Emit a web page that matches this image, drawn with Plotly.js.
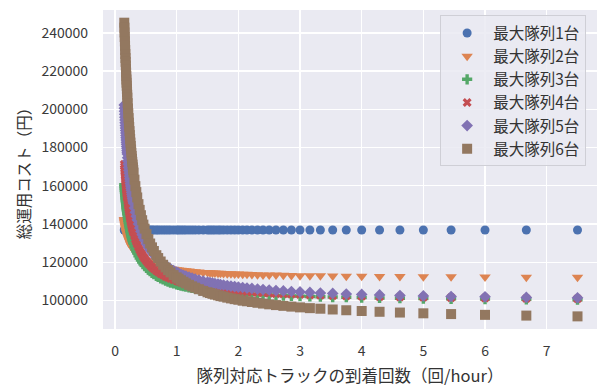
<!DOCTYPE html>
<html>
<head>
<meta charset="utf-8">
<script src="https://cdn.plot.ly/plotly-3.0.1.min.js"></script>
<style>
html,body{margin:0;padding:0;background:#ffffff;}
#chart{width:598px;height:388px;}
</style>
</head>
<body>
<div id="chart"></div>
<script>
// arrivals of platoon trucks per hour (x)
const arrivals = [0.15,0.1525,0.155,0.1575,0.16,0.1625,0.165,0.1675,0.17,0.1725,
0.175,0.1775,0.18,0.1825,0.185,0.1875,0.19,0.1925,0.195,0.1975,
0.2,0.205,0.21,0.215,0.22,0.225,0.23,0.235,0.24,0.245,
0.25,0.255,0.26,0.265,0.27,0.275,0.28,0.285,0.29,0.295,
0.3,0.315,0.33,0.345,0.36,0.38,0.4,0.42,0.44,0.46,
0.48,0.51,0.54,0.57,0.6,0.63,0.67,0.7,0.74,0.78,
0.82,0.86,0.9,0.95,1.0,1.03,1.07,1.11,1.15,1.2,
1.25,1.3,1.36,1.43,1.5,1.54,1.58,1.62,1.67,1.71,
1.76,1.82,1.88,1.94,2.0,2.07,2.14,2.22,2.31,2.4,
2.5,2.61,2.73,2.86,3.0,3.16,3.33,3.53,3.75,4.0,
4.29,4.62,5.0,5.45,6.0,6.67,7.5];

const seriesNames = ['最大隊列1台','最大隊列2台','最大隊列3台','最大隊列4台','最大隊列5台','最大隊列6台'];

const costQueue1 = [136900,136900,136900,136900,136900,136900,136900,136900,136900,136900,
136900,136900,136900,136900,136900,136900,136900,136900,136900,136900,
136900,136900,136900,136900,136900,136900,136900,136900,136900,136900,
136900,136900,136900,136900,136900,136900,136900,136900,136900,136900,
136900,136900,136900,136900,136900,136900,136900,136900,136900,136900,
136900,136900,136900,136900,136900,136900,136900,136900,136900,136900,
136900,136900,136900,136900,136900,136900,136900,136900,136900,136900,
136900,136900,136900,136900,136900,136900,136900,136900,136900,136900,
136900,136900,136900,136900,136900,136900,136900,136900,136900,136900,
136900,136900,136900,136900,136900,136900,136900,136900,136900,136900,
136900,136900,136900,136900,136900,136900,136900];

const costQueue2 = [142300,141800,141300,140800,140400,139900,139500,139100,138700,138300,
137900,137500,137200,136800,136500,136100,135800,135500,135200,134900,
134600,134000,133500,133000,132500,132000,131600,131200,130800,130400,
130000,129600,129300,128900,128600,128300,128000,127700,127400,127200,
126900,126200,125500,124900,124300,123700,123100,122500,122000,121500,
121100,120600,120100,119600,119200,118800,118400,118100,117700,117400,
117100,116900,116600,116400,116100,116000,115800,115700,115500,115400,
115200,115100,114900,114700,114600,114500,114400,114400,114300,114200,
114100,114000,114000,113900,113800,113700,113700,113600,113500,113400,
113400,113300,113200,113100,113000,113000,112900,112800,112700,112700,
112600,112500,112400,112400,112300,112200,112100];

const costQueue3 = [160500,159500,158600,157600,156700,155800,155000,154100,153300,152500,
151800,151000,150300,149600,148900,148300,147600,147000,146400,145800,
145200,144100,143000,142000,141000,140100,139200,138400,137500,136800,
136000,135300,134600,133900,133300,132700,132100,131500,130900,130400,
129900,128400,127100,125900,124800,123400,122200,121100,120100,119200,
118400,117200,116200,115300,114500,113800,112900,112300,111600,111000,
110400,109900,109400,108900,108400,108100,107800,107500,107200,106900,
106600,106300,106000,105600,105300,105200,105000,104900,104700,104600,
104400,104300,104100,103900,103800,103600,103500,103300,103200,103000,
102900,102700,102600,102400,102300,102100,102000,101800,101700,101500,
101300,101200,101000,100900,100700,100600,100400];

const costQueue4 = [171200,170100,168900,167800,166800,165700,164700,163700,162800,161900,
161000,160100,159300,158500,157700,156900,156100,155400,154700,154000,
153300,152000,150700,149500,148400,147300,146300,145300,144300,143400,
142500,141700,140900,140100,139400,138600,137900,137300,136600,136000,
135400,133700,132100,130700,129400,127800,126400,125100,124000,122900,
121900,120600,119400,118400,117400,116600,115600,114900,114000,113300,
112600,112000,111500,110800,110300,109900,109600,109200,108900,108500,
108100,107800,107400,107000,106700,106500,106300,106100,105900,105800,
105600,105400,105200,105000,104900,104700,104500,104300,104200,104000,
103800,103600,103400,103300,103100,102900,102700,102500,102400,102200,
102000,101800,101700,101500,101300,101100,100900];

const costQueue5 = [202300,200600,199000,197400,195900,194400,192900,191500,190200,188900,
187600,186300,185100,184000,182800,181700,180600,179600,178500,177500,
176600,174700,172900,171200,169500,168000,166500,165000,163700,162400,
161100,159900,158700,157600,156500,155500,154500,153500,152600,151700,
150800,148400,146100,144100,142200,140000,137900,136100,134400,132900,
131500,129600,127900,126400,125100,123800,122400,121400,120200,119100,
118100,117300,116500,115600,114800,114300,113700,113200,112700,112200,
111700,111200,110700,110100,109600,109300,109100,108800,108600,108300,
108100,107800,107500,107300,107000,106800,106500,106300,106000,105700,
105500,105200,105000,104700,104500,104200,103900,103700,103400,103200,
102900,102600,102400,102100,101900,101600,101400];

const costQueue6 = [245300,242700,240200,237800,235500,233200,231000,228900,226800,224800,
222900,221000,219200,217400,215600,213900,212300,210700,209100,207600,
206100,203200,200500,197900,195400,193000,190800,188600,186500,184500,
182600,180800,179000,177300,175600,174100,172500,171100,169600,168300,
166900,163200,159800,156700,153900,150400,147400,144600,142000,139700,
137600,134700,132100,129800,127800,125900,123700,122200,120400,118700,
117300,115900,114700,113300,112100,111400,110600,109800,109000,108200,
107400,106700,105900,105000,104300,103900,103500,103100,102700,102300,
102000,101500,101100,100700,100400,99900,99600,99200,98800,98400,
98000,97600,97200,96800,96400,96000,95700,95300,94900,94500,
94100,93700,93300,92900,92500,92100,91700];

const xTicks = [0,1,2,3,4,5,6,7];
const yTicks = [100000,120000,140000,160000,180000,200000,220000,240000];

const allCosts = [costQueue1,costQueue2,costQueue3,costQueue4,costQueue5,costQueue6];
const colors = ['#4C72B0','#DD8452','#55A868','#C44E52','#8172B3','#937860'];
const symbols = ['circle','triangle-down','cross','x','diamond','square'];
const sizes = [9,10,8.5,8,9,10];

const FONT = '"Noto Sans CJK JP", "Noto Sans", sans-serif';

const traces = allCosts.map((ys, i) => ({
  type: 'scatter',
  mode: 'markers',
  name: seriesNames[i],
  x: arrivals,
  y: ys,
  marker: {color: colors[i], symbol: symbols[i], size: sizes[i], line: {width: 0}}
}));

const layout = {
  width: 598, height: 388,
  margin: {l: 103, r: 1, t: 10, b: 59, pad: 0},
  paper_bgcolor: '#ffffff',
  plot_bgcolor: '#EAEAF2',
  font: {family: FONT, size: 14, color: '#3a3a3a'},
  showlegend: true,
  hovermode: false,
  xaxis: {
    range: [-0.195, 7.816],
    tickvals: xTicks,
    ticktext: xTicks.map(String),
    showgrid: true, gridcolor: '#ffffff', gridwidth: 1.4,
    zeroline: false, showline: false,
    ticks: '', ticklabelstandoff: 12,
    tickfont: {family: FONT, size: 14, color: '#3a3a3a'},
    title: {text: '隊列対応トラックの到着回数（回/hour）', font: {family: FONT, size: 16.5, color: '#333333'}, standoff: 11}
  },
  yaxis: {
    range: [85094, 251935],
    tickvals: yTicks,
    tickformat: 'd',
    showgrid: true, gridcolor: '#ffffff', gridwidth: 1.4,
    zeroline: false, showline: false,
    ticks: '', ticklabelstandoff: 14,
    tickfont: {family: FONT, size: 14, color: '#3a3a3a'},
    title: {text: '総運用コスト（円）', font: {family: FONT, size: 15.5, color: '#333333'}, standoff: 6}
  },
  legend: {
    x: 0.978, xanchor: 'right',
    y: 0.983, yanchor: 'top',
    bgcolor: 'rgba(234,234,242,0.85)',
    bordercolor: '#cfcfd6', borderwidth: 1,
    font: {family: FONT, size: 15.5, color: '#333333'},
    itemwidth: 42,
    tracegroupgap: 0
  }
};

Plotly.newPlot('chart', traces, layout, {displayModeBar: false, staticPlot: true});
</script>
</body>
</html>
